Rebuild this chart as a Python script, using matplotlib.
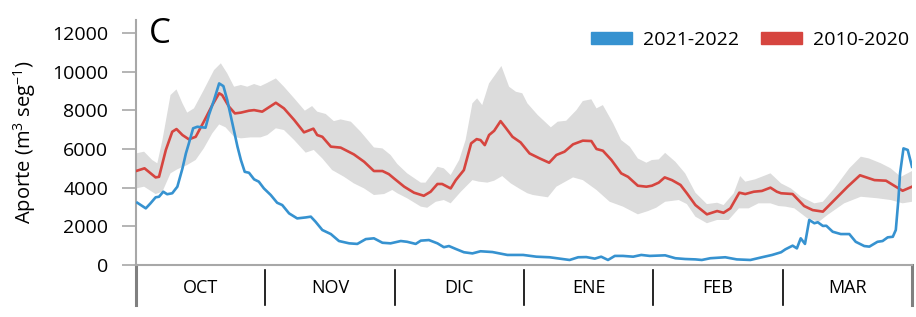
import matplotlib
matplotlib.use("Agg")
import matplotlib.pyplot as plt
from matplotlib.patches import Patch

plt.rcParams['font.family'] = ['Open Sans', 'DejaVu Sans']
plt.rcParams['mathtext.fontset'] = 'custom'
plt.rcParams['mathtext.rm'] = 'Open Sans'
plt.rcParams['mathtext.default'] = 'regular'

# days since 1 Oct (season Oct-Mar, 182 days)
months = ["OCT", "NOV", "DIC", "ENE", "FEB", "MAR"]
season_days = 182

# 2021-2022 flow
days_2122 = [0.3, 2.3, 3.4, 4.6, 5.4, 6.4, 7.3, 8.5, 9.7, 10.9, 11.7, 12.4, 13.4, 14.4, 15.5,
             16.3, 17.1, 18.3, 19.5, 20.5, 21.4, 22.6, 23.8, 24.6, 25.5, 26.5, 27.7, 28.8, 30.0, 31.6,
             33.1, 34.3, 35.9, 37.8, 39.8, 41.0, 42.1, 43.7, 45.7, 47.6, 50.0, 51.9, 53.9, 55.8, 57.8,
             59.7, 62.1, 63.6, 65.6, 66.8, 68.7, 70.7, 72.2, 73.4, 75.0, 76.9, 78.9, 80.8, 83.6, 87.1,
             90.8, 93.9, 97.0, 101.7, 103.7, 105.6, 107.6, 109.1, 110.7, 112.3, 114.2, 116.6, 118.5, 120.5, 124.1,
             126.5, 128.8, 131.2, 132.7, 134.7, 138.2, 140.9, 144.1, 146.8, 149.2, 151.3, 152.3, 154.0, 155.0, 155.9,
             156.9, 157.9, 159.1, 159.9, 161.1, 161.9, 163.4, 165.3, 167.3, 168.8, 170.8, 172.0, 173.9, 175.1, 176.3,
             177.5, 178.2, 178.8, 179.2, 180.0, 181.0, 182]
flow_2122 = [3220, 2930, 3190, 3500, 3530, 3790, 3660, 3710, 4050, 5000, 5770, 6290, 7070, 7150, 7120,
             7100, 7760, 8530, 9390, 9250, 8530, 7330, 6120, 5430, 4820, 4770, 4430, 4310, 3960, 3620,
             3220, 3100, 2670, 2410, 2460, 2500, 2240, 1810, 1600, 1240, 1120, 1090, 1340, 1380, 1150,
             1120, 1240, 1200, 1090, 1260, 1290, 1120, 920, 980, 830, 660, 600, 710, 670, 520,
             520, 430, 400, 260, 400, 410, 330, 430, 260, 470, 470, 430, 520, 470, 500,
             350, 310, 290, 260, 350, 400, 290, 260, 400, 520, 660, 810, 1000, 860, 1380,
             1090, 2330, 2160, 2210, 2020, 2030, 1720, 1600, 1600, 1200, 980, 950, 1200, 1240, 1430,
             1460, 1810, 3360, 4740, 6030, 5950, 5080]

# 2010-2020 mean
days_mean = [0, 2, 4.6, 5.4, 7, 8.5, 9.5, 10.9, 12.4, 14, 15.9, 17.9, 19.5, 20.2, 21.8,
             23.2, 24.6, 26.5, 27.7, 29.6, 32.8, 34.7, 37.1, 39.4, 41.6, 42.5, 43.7, 45.7, 48, 51.1,
             53.5, 55.8, 57.8, 59.3, 60.5, 62.9, 65.2, 67.5, 69.1, 70.7, 71.8, 73.8, 75, 76.9, 78.6,
             79.9, 80.8, 81.8, 82.8, 84, 85.5, 86.7, 88.3, 90.2, 92.3, 94.7, 96.9, 98.6, 100.5, 102.5,
             104.8, 106.8, 108, 109.5, 111.5, 113.8, 115.4, 117.7, 119.7, 121, 122.6, 124, 125.7, 127.7, 129.2,
             131.2, 133.9, 136.3, 137.8, 139.4, 141.5, 142.9, 144.9, 146.8, 148.8, 150.3, 151.3, 154, 156.7, 158.7,
             161.1, 163.8, 166.9, 169.8, 173.2, 175.9, 178.2, 179.8, 182]
flow_mean = [4860, 5000, 4530, 4560, 5950, 6890, 7030, 6720, 6500, 6630, 7410, 8270, 8880, 8790, 8190,
             7840, 7880, 7980, 8010, 7930, 8390, 8100, 7500, 6860, 7050, 6720, 6630, 6120, 6070, 5720,
             5340, 4860, 4860, 4700, 4480, 4050, 3740, 3580, 3790, 4190, 4190, 3960, 4390, 4910, 6290,
             6510, 6460, 6200, 6720, 6940, 7440, 7100, 6630, 6340, 5770, 5510, 5290, 5690, 5860, 6240,
             6430, 6410, 6000, 5910, 5430, 4740, 4560, 4100, 4050, 4100, 4260, 4530, 4390, 4140, 3710,
             3100, 2620, 2790, 2700, 2930, 3740, 3670, 3790, 3830, 4000, 3790, 3710, 3670, 3050, 2840,
             2760, 3360, 4050, 4640, 4390, 4360, 4050, 3840, 4050]

# 2010-2020 band, upper edge
days_upper = [0, 1.9, 3.8, 5.0, 6.2, 8.1, 9.5, 10.9, 12.0, 13.6, 15.9, 18.3, 19.9, 21.4, 23.0,
              24.6, 26.1, 27.7, 29.2, 30.8, 32.8, 34.7, 37.1, 39.6, 41.3, 42.5, 44.5, 46.4, 48.0, 50.4,
              52.7, 55.8, 57.8, 59.7, 61.3, 63.6, 66.8, 67.9, 70.7, 72.2, 73.8, 75.8, 77.3, 78.9, 80.0,
              81.2, 82.8, 85.7, 87.5, 89.1, 90.6, 91.8, 94.2, 97.3, 98.9, 100.9, 103.3, 104.8, 106.8, 108.0,
              109.5, 111.9, 113.8, 115.8, 117.7, 119.7, 121.0, 122.6, 124.1, 126.5, 128.8, 131.2, 133.9, 136.3, 137.8,
              140.2, 141.7, 142.9, 145.2, 148.8, 150.3, 151.3, 153.6, 156.0, 159.1, 161.1, 163.8, 167.3, 170.0, 171.9,
              174.7, 177.0, 179.4, 182]
flow_upper = [5770, 5860, 5430, 5260, 6460, 8790, 9080, 8360, 7880, 8100, 9050, 10080, 10430, 9910, 9220,
              9310, 9220, 9360, 9250, 9420, 9650, 9220, 8620, 7980, 8220, 7930, 7810, 7440, 7530, 7410,
              6890, 6080, 6030, 5690, 5220, 4740, 4260, 4260, 5080, 5000, 4650, 5430, 6460, 8360, 8620,
              8270, 9390, 10290, 9220, 8960, 8880, 8360, 7760, 7120, 7410, 7460, 8010, 8480, 8570, 8100,
              8270, 7330, 6460, 6120, 5510, 5290, 5430, 5460, 5800, 5340, 4740, 3740, 3150, 3220, 3100,
              3710, 4600, 4310, 4430, 4740, 4430, 4220, 3960, 3530, 3190, 3270, 3960, 5000, 5600, 5510,
              5260, 5000, 4560, 4860]

# 2010-2020 band, lower edge
days_lower = [0, 1.9, 4.6, 6.2, 8.1, 9.7, 12.0, 14.0, 15.9, 17.9, 19.5, 21.0, 23.0, 24.6, 26.9,
              29.2, 30.8, 32.8, 34.7, 37.1, 39.8, 41.7, 43.7, 46.0, 48.8, 51.1, 53.5, 55.8, 58.2, 60.1,
              61.3, 63.6, 66.8, 68.3, 70.3, 72.2, 73.8, 76.2, 78.9, 80.4, 82.4, 84.0, 85.9, 87.9, 90.2,
              91.8, 93.1, 96.6, 98.6, 102.5, 104.8, 108.0, 111.1, 114.2, 117.7, 120.1, 122.0, 124.1, 127.3, 129.2,
              131.2, 133.9, 136.3, 139.0, 141.4, 143.7, 146.0, 148.8, 150.7, 152.3, 154.4, 157.5, 160.2, 162.2, 166.1,
              170.0, 173.9, 177.0, 179.8, 182]
flow_lower = [3960, 4050, 3670, 3790, 4740, 4950, 5170, 5430, 6030, 6810, 7270, 7120, 6630, 6550, 6600,
              6600, 6720, 7070, 6980, 6460, 5810, 5950, 5510, 4910, 4560, 4220, 3960, 3620, 3670, 3880,
              3710, 3450, 3020, 2960, 3270, 3360, 3190, 3790, 4390, 4310, 4260, 4360, 4600, 4220, 3910,
              3710, 3620, 3500, 4050, 4530, 4390, 3880, 3270, 3020, 2620, 2790, 2960, 3270, 3360, 3150,
              2500, 2160, 2330, 2330, 2930, 2930, 3190, 3190, 3050, 3020, 2930, 2410, 2240, 2590, 3190,
              3530, 3450, 3360, 3190, 3270]

yticks = [0, 2000, 4000, 6000, 8000, 10000, 12000]

blue = "#3692d0"
red = "#d6453f"
band = "#dcdcdc"
axis_gray = "#a8a8a8"

fig = plt.figure(figsize=(9.16, 3.17), dpi=100)
ax = fig.add_axes([136 / 916, 52 / 317, 776 / 916, 245 / 317])

# band as one polygon: upper edge forward, lower edge backward
ax.fill(days_upper + days_lower[::-1], flow_upper + flow_lower[::-1],
        color=band, lw=0, zorder=1)
ax.plot(days_mean, flow_mean, color=red, lw=1.9, zorder=3)
ax.plot(days_2122, flow_2122, color=blue, lw=1.9, zorder=4)

ax.set_xlim(0, season_days)
ax.set_ylim(0, 12670)
ax.set_yticks(yticks)
ax.set_yticklabels([str(v) for v in yticks])
ax.tick_params(axis='y', length=10, width=1.2, color=axis_gray, pad=10, labelsize=14)
ax.set_ylabel("Aporte (m$^3$ seg$^{-1}$)", fontsize=14.5, labelpad=10)

for side in ["top", "right"]:
    ax.spines[side].set_visible(False)
ax.spines["left"].set_color(axis_gray)
ax.spines["bottom"].set_color(axis_gray)
ax.spines["left"].set_linewidth(1.5)
ax.spines["bottom"].set_linewidth(1.5)

# month labels centred, separators between months
mwidth = season_days / len(months)
ax.set_xticks([mwidth * (i + 0.5) for i in range(len(months))])
ax.set_xticklabels(months, fontsize=13)
ax.tick_params(axis='x', length=0, pad=10)
xtr = ax.get_xaxis_transform()
for i in range(len(months) + 1):
    x = mwidth * i
    if i == 0 or i == len(months):
        ax.plot([x, x], [0, -0.163], transform=xtr, color="#808080", lw=2.2, clip_on=False)
    else:
        ax.plot([x, x], [-0.02, -0.163], transform=xtr, color="black", lw=1.2, clip_on=False)

fig.text(149 / 916, 1 - 43 / 317, "C", fontsize=25, va="baseline", ha="left")

handles = [Patch(color=blue, label="2021-2022"), Patch(color=red, label="2010-2020")]
fig.legend(handles=handles, loc="upper right", bbox_to_anchor=(0.997, 0.915), ncol=2,
           frameon=False, fontsize=14, handlelength=2.1, handleheight=0.6,
           handletextpad=0.6, columnspacing=1.1, borderaxespad=0, borderpad=0.2)

fig.savefig("out.png", dpi=100)
